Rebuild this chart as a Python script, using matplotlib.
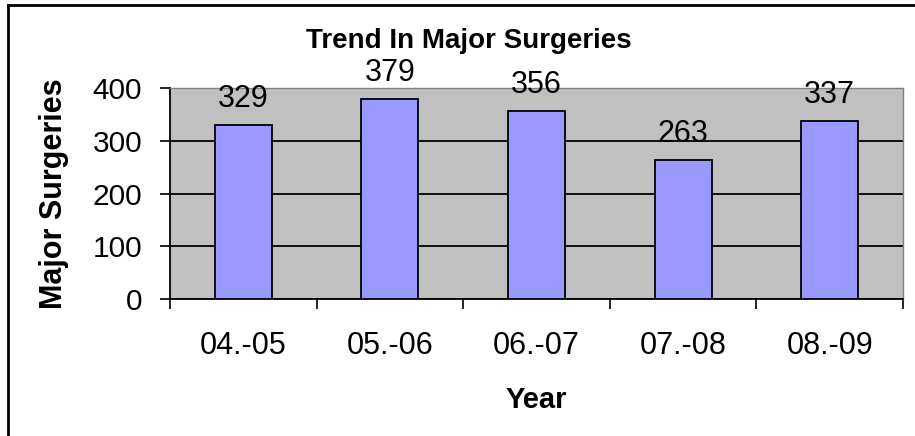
import matplotlib.pyplot as plt
from matplotlib.lines import Line2D

years = ['04.-05', '05.-06', '06.-07', '07.-08', '08.-09']
surgeries = [329, 379, 356, 263, 337]
yticks = [0, 100, 200, 300, 400]

plt.rcParams['font.family'] = ['Liberation Sans', 'DejaVu Sans']

W, H = 915, 436
fig = plt.figure(figsize=(W / 100, H / 100), dpi=100)
ax = fig.add_axes([170 / W, 1 - 299 / H, (903 - 170) / W, (299 - 88) / H])
ax.set_facecolor('#c0c0c0')

x = list(range(len(years)))
ax.bar(x, surgeries, width=0.39, color='#9999ff', edgecolor='black',
       linewidth=1.3, zorder=3)

# value labels above bars
for xi, v in zip(x, surgeries):
    ax.annotate(str(v), (xi, v), xytext=(0, 13), textcoords='offset points',
                ha='center', va='baseline', fontsize=22, color='black', zorder=4)

ax.set_xlim(-0.5, len(years) - 0.5)
ax.set_ylim(0, 400)
ax.set_yticks(yticks)
ax.set_yticklabels([str(t) for t in yticks], fontsize=21.5)
ax.set_xticks(x)
ax.set_xticklabels(years, fontsize=22)
ax.set_xticks([i - 0.5 for i in range(len(years) + 1)], minor=True)
ax.tick_params(axis='x', which='major', length=0, pad=23)
ax.tick_params(axis='x', which='minor', length=7, width=1.2, direction='out')
ax.tick_params(axis='y', length=7, width=1.2, direction='out', pad=13)

ax.grid(axis='y', color='black', linewidth=1.3, zorder=1)
ax.set_axisbelow(True)
for side in ['left', 'bottom']:
    ax.spines[side].set_color('black')
    ax.spines[side].set_linewidth(1.3)
for side in ['top', 'right']:
    ax.spines[side].set_color('#808080')
    ax.spines[side].set_linewidth(1.0)

ax.set_ylabel('Major Surgeries', fontsize=22, fontweight='bold')
ax.yaxis.set_label_coords(-0.138, 0.5)
ax.set_xlabel('Year', fontsize=21, fontweight='bold')
ax.xaxis.set_label_coords(0.5, -0.41)

fig.text(469 / W, 1 - 48 / H, 'Trend In Major Surgeries', ha='center',
         va='baseline', fontsize=20, fontweight='bold')

# outer chart frame (left and top edges)
fig.add_artist(Line2D([8 / W, 8 / W], [0, 1 - 5 / H], color='black', linewidth=2))
fig.add_artist(Line2D([8 / W, 1], [1 - 5 / H, 1 - 5 / H], color='black', linewidth=2))

fig.savefig('out.png', dpi=100)
